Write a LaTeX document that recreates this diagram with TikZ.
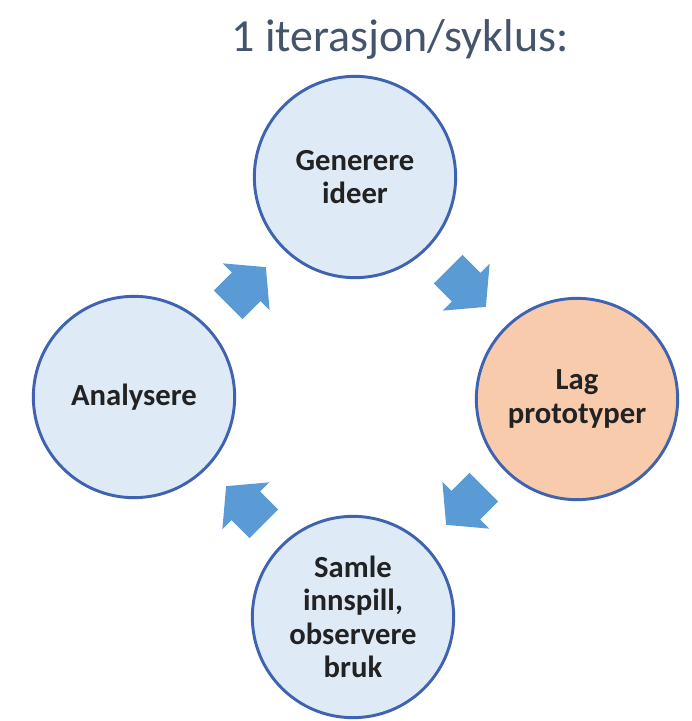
\documentclass[tikz,border=0pt]{standalone}
\usepackage{fontspec}
\setmainfont{Carlito}
\usetikzlibrary{shapes.arrows,positioning}

\definecolor{phasefill}{HTML}{DEEBF7}
\definecolor{phaseline}{HTML}{3F63B0}
\definecolor{protofill}{HTML}{F8CBAD}
\definecolor{turnblue}{HTML}{5B9BD5}
\definecolor{labeltext}{HTML}{222222}
\definecolor{titletext}{HTML}{44546A}

\begin{document}
\begin{tikzpicture}[x=0.75pt,y=-0.75pt,
    phase/.style={circle,draw=phaseline,line width=2.2pt,fill=phasefill,
      minimum size=151pt,inner sep=0pt,align=center,text=labeltext,
      font=\bfseries\fontsize{23}{25}\selectfont},
    turn/.style={single arrow,fill=turnblue,inner xsep=0pt,inner ysep=15pt,
      minimum height=40pt,single arrow head extend=9.75pt,
      single arrow tip angle=100}]
  \useasboundingbox (0,0) rectangle (692,721);
  \node[anchor=base,text=titletext,font=\fontsize{34.5}{38}\selectfont]
    (title) at (400,51) {1 iterasjon/syklus:};
  \node[phase](gen) at (355,177) {Generere\\ideer};
  \node[phase,fill=protofill](lag) at (577,399) {Lag\\prototyper};
  \node[phase](saml) at (353,617) {Samle\\innspill,\\observere\\bruk};
  \node[phase](ana) at (134,397) {Analysere};
  \node[turn,rotate=45](t1) at (241,292) {};
  \node[turn,rotate=-45](t2) at (461,282) {};
  \node[turn,rotate=-135](t3) at (471,500) {};
  \node[turn,rotate=135](t4) at (251,511) {};
\end{tikzpicture}
\end{document}
